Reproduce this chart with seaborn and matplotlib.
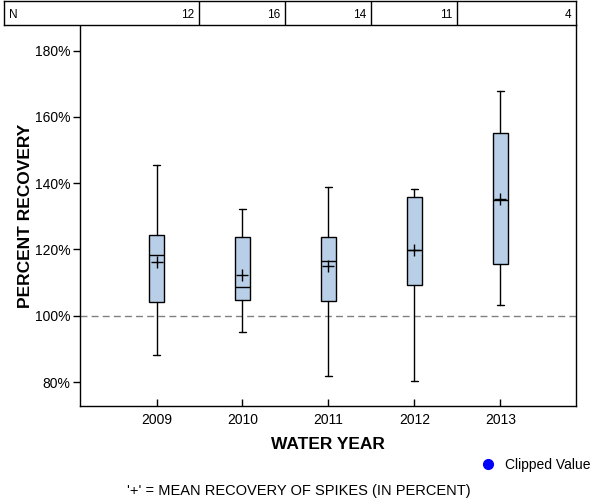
import matplotlib
matplotlib.use("Agg")
import matplotlib.pyplot as plt
from matplotlib.lines import Line2D
import seaborn as sns

# Estilo
sns.set_style("ticks")
plt.rcParams['font.family'] = ['Liberation Sans', 'DejaVu Sans']
plt.rcParams.update({'text.color': 'black', 'axes.labelcolor': 'black',
                     'xtick.color': 'black', 'ytick.color': 'black'})

# Dados (percent recovery por water year)
years = ['2009', '2010', '2011', '2012', '2013']
n_samples = [12, 16, 14, 11, 4]
whisker_low = [88.1, 95.1, 81.8, 80.3, 103.2]
q1 = [104.1, 104.7, 104.4, 109.3, 115.6]
median = [118.3, 108.8, 116.6, 119.7, 134.9]
q3 = [124.4, 123.8, 123.8, 135.9, 155.2]
whisker_high = [145.5, 132.2, 138.8, 138.3, 167.9]
mean = [116.1, 112.4, 114.9, 119.7, 135.1]
y_ticks = [80, 100, 120, 140, 160, 180]

positions = list(range(len(years)))
stats = []
for i in positions:
    stats.append({
        'whislo': whisker_low[i], 'q1': q1[i], 'med': median[i],
        'q3': q3[i], 'whishi': whisker_high[i], 'fliers': [],
    })

fig = plt.figure(figsize=(6, 5), dpi=100)
ax = fig.add_axes([80/600, 1 - 406/500, 496/600, 381/500])

ax.bxp(stats, positions=positions, widths=0.175, showfliers=False,
       patch_artist=True,
       boxprops=dict(facecolor='#B9CFE7', edgecolor='black', linewidth=1),
       medianprops=dict(color='black', linewidth=1),
       whiskerprops=dict(color='black', linewidth=1),
       capprops=dict(color='black', linewidth=1))

sns.scatterplot(x=positions, y=mean, marker='+', color='black', s=70,
                linewidth=1, ax=ax, zorder=5)

ax.axhline(100, color='#808080', linestyle=(0, (5, 3)), linewidth=1, zorder=0)

ax.set_xlim(-0.89, 4.88)
ax.set_ylim(72.8, 187.7)
ax.set_xticks(positions)
ax.set_xticklabels(years)
ax.set_yticks(y_ticks)
ax.set_yticklabels([f"{v}%" for v in y_ticks])
ax.tick_params(axis='x', direction='in', length=5, width=1, pad=5,
               labelsize=10, colors='black')
ax.tick_params(axis='y', direction='out', length=5, width=1, pad=2,
               labelsize=10, colors='black')
for side in ['left', 'bottom', 'right']:
    ax.spines[side].set_visible(True)
    ax.spines[side].set_color('black')
    ax.spines[side].set_linewidth(1)
ax.spines['top'].set_visible(False)

ax.set_xlabel('WATER YEAR', fontsize=12.5, fontweight='bold', color='black')
ax.xaxis.set_label_coords(0.5, -0.081)
ax.set_ylabel('PERCENT RECOVERY', fontsize=12.5, fontweight='bold', color='black')
ax.yaxis.set_label_coords(-0.095, 0.5)

# Tabela N
ax_n = fig.add_axes([4/600, 1 - 25/500, 572/600, 24/500])
ax_n.set_xlim(-1.774, 4.88)
ax_n.set_ylim(0, 1)
ax_n.set_xticks([])
ax_n.set_yticks([])
for side in ax_n.spines:
    ax_n.spines[side].set_color('black')
    ax_n.spines[side].set_linewidth(1)
for b in [0.5, 1.5, 2.5, 3.5]:
    ax_n.axvline(b, color='black', linewidth=1)
ax_n.text(-1.774 + 5/86, 0.4, 'N', ha='left', va='center', fontsize=8.5)
for i, n in enumerate(n_samples):
    right = 4.88 if i == len(n_samples) - 1 else i + 0.5
    ax_n.text(right - 5/86, 0.4, str(n), ha='right', va='center', fontsize=8.5)

# Legenda e nota
handle = Line2D([], [], linestyle='none', marker='o', color='blue',
                markersize=7)
fig.legend([handle], ['Clipped Value'], loc='center left',
           bbox_to_anchor=(483.8/600, 1 - 465/500), frameon=False,
           handlelength=0.6, handletextpad=0.93, borderpad=0,
           borderaxespad=0, fontsize=10)
fig.text(299/600, 1 - 491.5/500, "'+' = MEAN RECOVERY OF SPIKES (IN PERCENT)",
         ha='center', va='center', fontsize=10.5)

fig.savefig('out.png', dpi=100)
